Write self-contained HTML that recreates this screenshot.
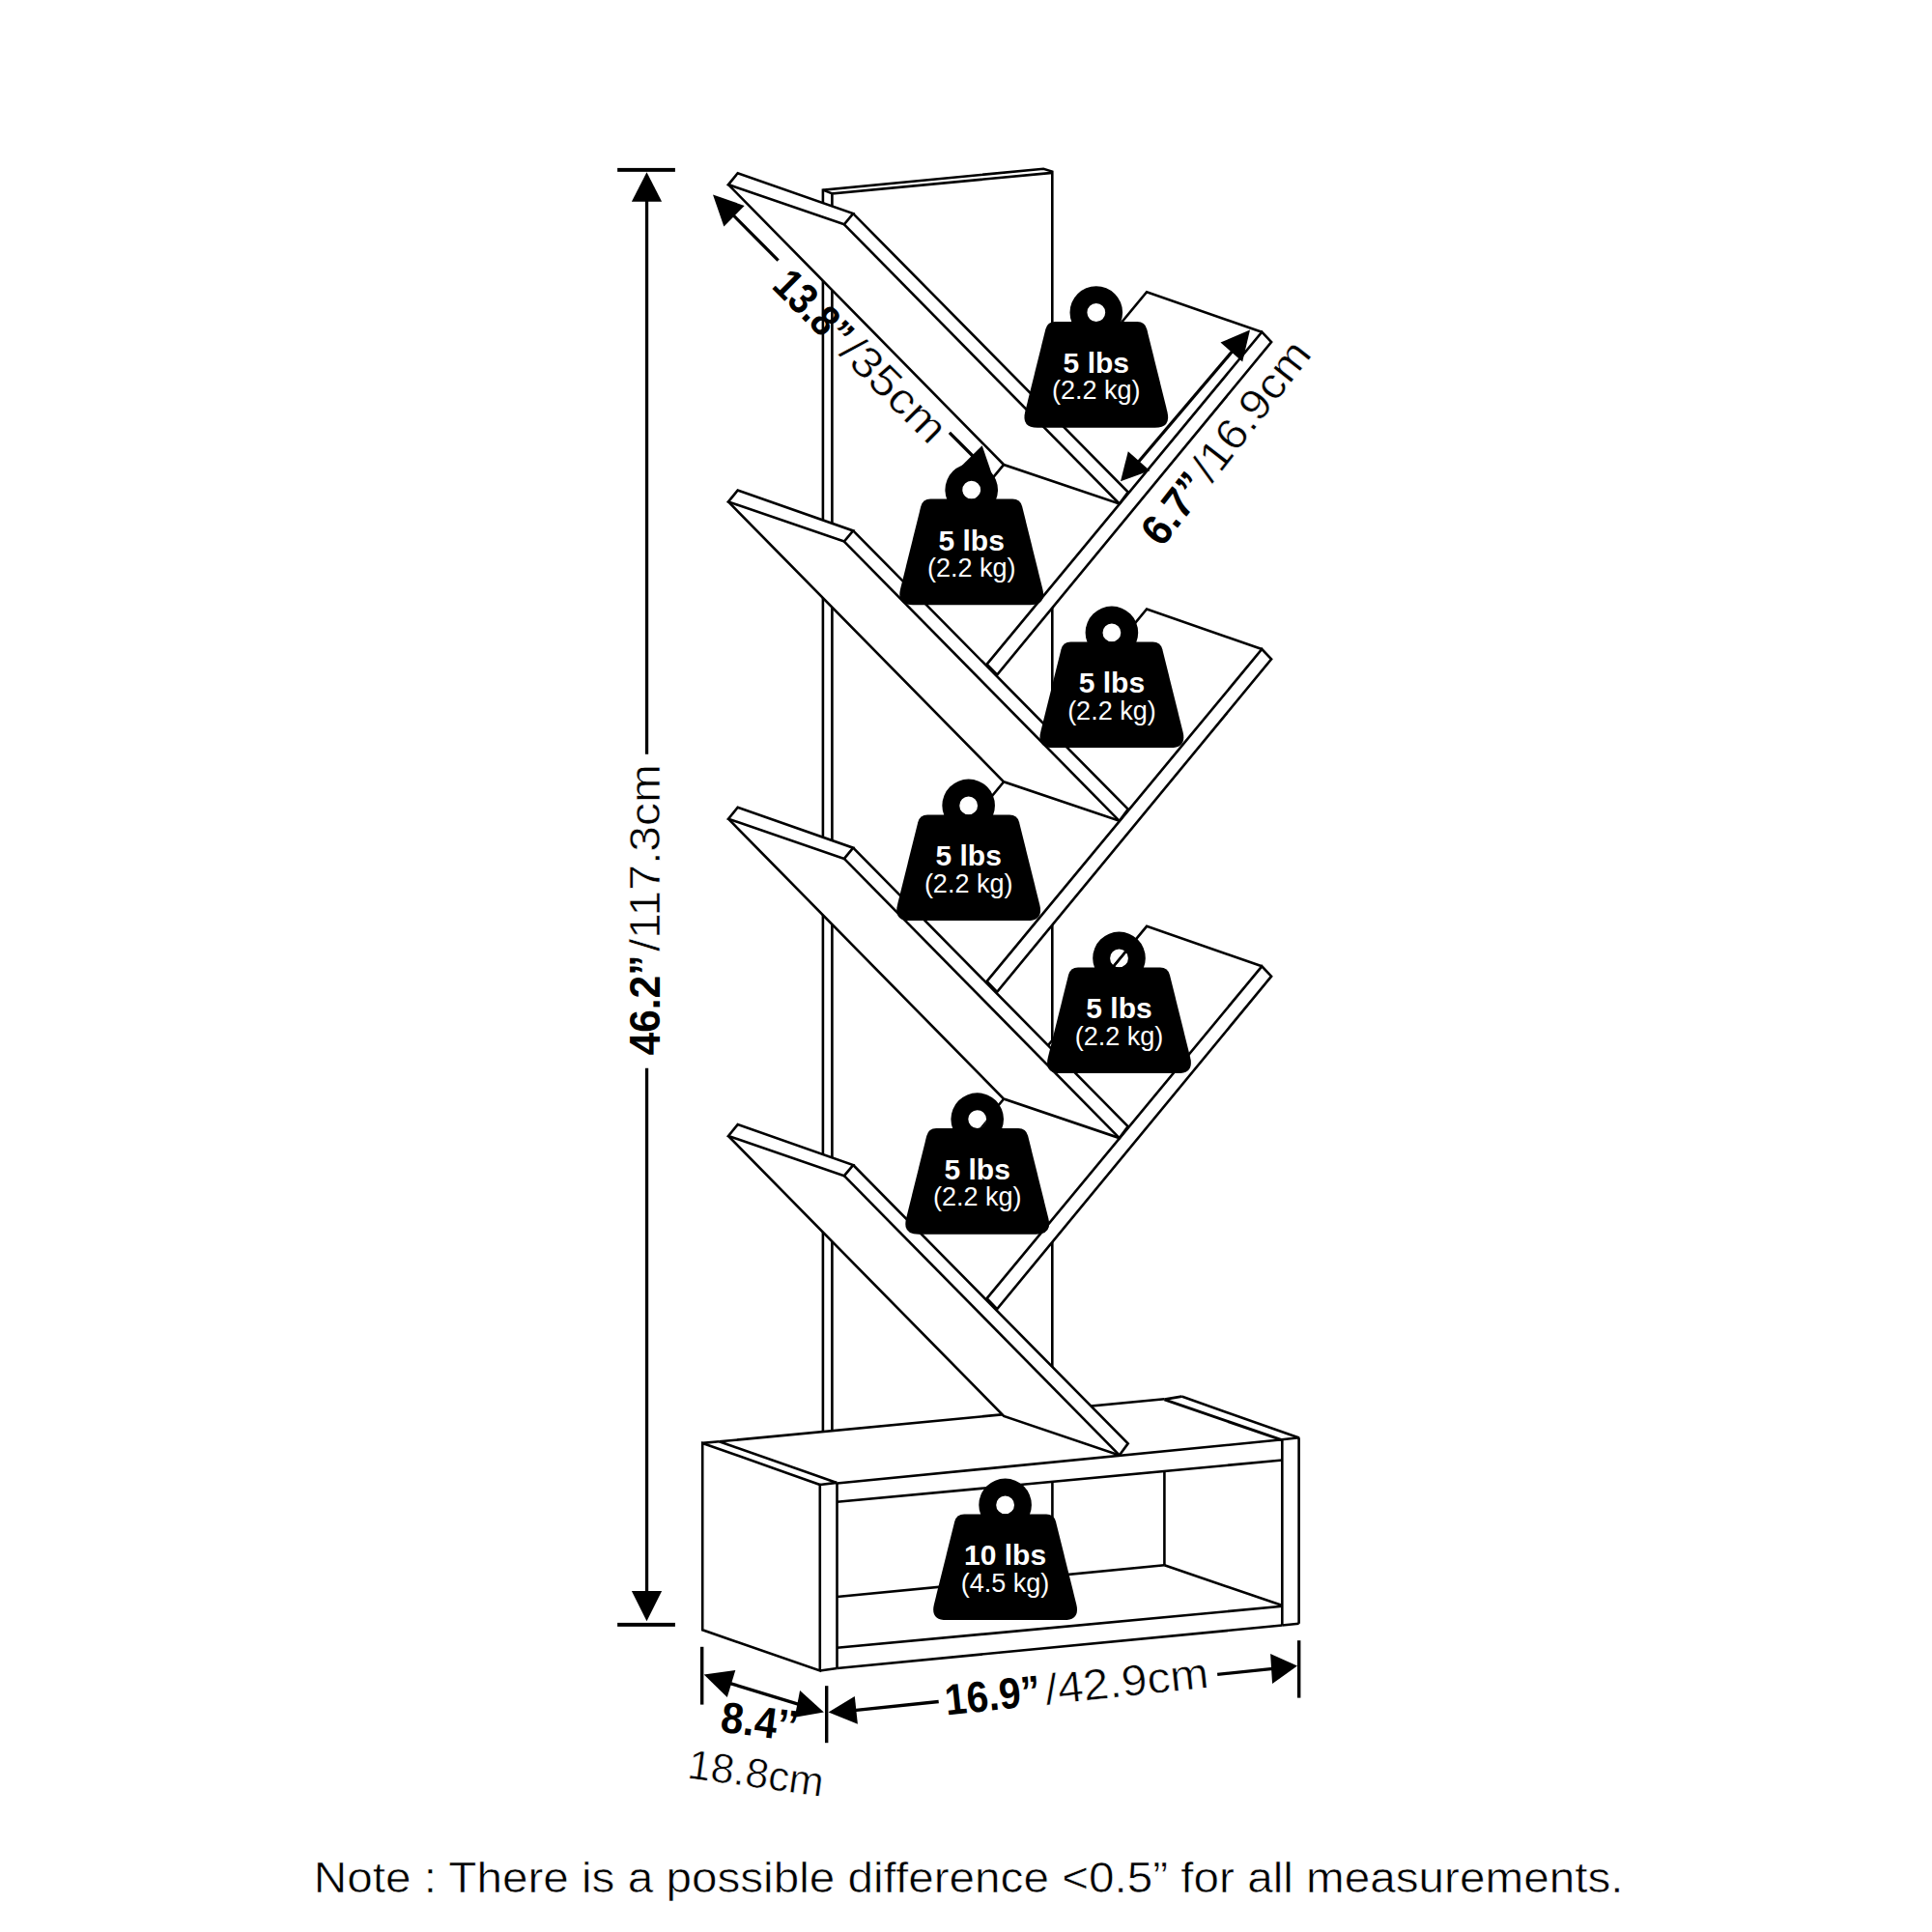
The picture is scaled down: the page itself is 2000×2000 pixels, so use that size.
<!DOCTYPE html>
<html><head><meta charset="utf-8"><title>Tree bookshelf dimensions</title>
<style>
html,body{margin:0;padding:0;background:#fff;width:2000px;height:2000px;overflow:hidden}
svg{display:block}
text.wb,text.wr,text.db{stroke:none}
.wb{font-family:"Liberation Sans",sans-serif;font-weight:700;font-size:30px;fill:#fff;text-anchor:middle}
.wr{font-family:"Liberation Sans",sans-serif;font-weight:400;font-size:27px;fill:#fff;text-anchor:middle}
.db{font-family:"Liberation Sans",sans-serif;font-weight:700;fill:#000}
.dr{font-family:"Liberation Sans",sans-serif;font-weight:400;fill:#000;stroke:#fff;stroke-width:0.6px}
</style></head><body>
<svg width="2000" height="2000" viewBox="0 0 2000 2000">
<rect x="0" y="0" width="2000" height="2000" fill="#fff"/>
<g stroke="#000" stroke-linejoin="miter" stroke-linecap="butt" fill="none">
<polygon points="851.9,1483 851.9,196.65 1080.2,174.75 1089.3,177.6 1089.3,1461" fill="#fff" stroke-width="0"/>
<polyline points="851.9,1483 851.9,196.65 1080.2,174.75 1089.3,177.6 1089.3,1461" fill="none" stroke-width="2.6"/>
<polyline points="861.4,1483 861.4,200.4 1089.3,178.9" fill="none" stroke-width="2.6"/>
<line x1="851.9" y1="196.65" x2="861.4" y2="200.4" stroke-width="2.6"/>
<polygon points="727.2,1493.9 744.5,1492.3 1205.5,1448.3 1223.2,1445.6 1345,1488.5 1345,1681 866.5,1727 849.1,1729.5 727.2,1687.5" fill="#fff" stroke-width="0"/>
<polygon points="727.2,1493.9 848.8,1537 848.8,1729.5 727.2,1687.3" fill="none" stroke-width="2.6"/>
<line x1="744.5" y1="1492.3" x2="866.3" y2="1534.9" stroke-width="2.6"/>
<line x1="727.2" y1="1493.9" x2="744.5" y2="1492.3" stroke-width="2.6"/>
<line x1="848.8" y1="1537" x2="866.3" y2="1534.9" stroke-width="2.6"/>
<line x1="866.5" y1="1534.9" x2="866.5" y2="1727" stroke-width="2.6"/>
<line x1="848.8" y1="1729.5" x2="866.5" y2="1727" stroke-width="2.6"/>
<line x1="744.5" y1="1492.3" x2="1205.5" y2="1448.3" stroke-width="2.6"/>
<line x1="866.5" y1="1535.5" x2="1327.5" y2="1490.3" stroke-width="2.6"/>
<line x1="866.5" y1="1554.8" x2="1327.5" y2="1511.5" stroke-width="2.6"/>
<line x1="1205.5" y1="1448.6" x2="1223.2" y2="1445.6" stroke-width="2.6"/>
<line x1="1223.2" y1="1445.6" x2="1345" y2="1488.5" stroke-width="2.6"/>
<line x1="1205.5" y1="1448.9" x2="1326.8" y2="1490.6" stroke-width="3"/>
<line x1="1326.8" y1="1490.3" x2="1345" y2="1488.3" stroke-width="2.6"/>
<line x1="1327.3" y1="1490.3" x2="1327.3" y2="1682.5" stroke-width="2.6"/>
<line x1="1344.6" y1="1488.3" x2="1344.6" y2="1680.8" stroke-width="2.6"/>
<line x1="1327.3" y1="1682.5" x2="1344.6" y2="1680.8" stroke-width="2.6"/>
<line x1="1205.4" y1="1523.5" x2="1205.4" y2="1620.5" stroke-width="2.6"/>
<line x1="1089.4" y1="1534.4" x2="1089.4" y2="1633" stroke-width="2.6"/>
<line x1="866.5" y1="1653" x2="1205.4" y2="1620.3" stroke-width="2.6"/>
<line x1="1205.4" y1="1620.3" x2="1326.8" y2="1661.8" stroke-width="2.6"/>
<line x1="866.5" y1="1705.8" x2="1327.3" y2="1662.8" stroke-width="2.6"/>
<line x1="866.5" y1="1727" x2="1327.3" y2="1682.5" stroke-width="2.6"/>
<polygon points="1187.1,302.2 1306.3,343.7 1316.1,354.1 1032.2,698.5 1021.6,687.6 965.1,567.91 1025.1,497.91" fill="#fff" stroke-width="0"/>
<polygon points="1021.6,687.6 1306.3,343.7 1316.1,354.1 1032.2,698.5" fill="none" stroke-width="2.6"/>
<polyline points="1025.1,497.91 1187.1,302.2 1306.3,343.7" fill="none" stroke-width="2.6"/>
<polygon points="763.7,179.2 883.2,221.1 1167.7,509.4 1158.8,521.5 1039.1,481 754,191.1" fill="#fff" stroke-width="0"/>
<polygon points="754,191.1 763.7,179.2 883.2,221.1 873.9,232.3" fill="none" stroke-width="2.6"/>
<polyline points="754,191.1 1039.1,481 1158.8,521.5 1167.7,509.4 883.2,221.1" fill="none" stroke-width="2.6"/>
<line x1="873.9" y1="232.3" x2="1158.8" y2="521.5" stroke-width="2.6"/>
<polygon points="1187.1,630.5 1306.3,672 1316.1,682.4 1032.2,1026.8 1021.6,1015.9 965.1,896.21 1025.1,826.21" fill="#fff" stroke-width="0"/>
<polygon points="1021.6,1015.9 1306.3,672 1316.1,682.4 1032.2,1026.8" fill="none" stroke-width="2.6"/>
<polyline points="1025.1,826.21 1187.1,630.5 1306.3,672" fill="none" stroke-width="2.6"/>
<polygon points="763.7,507.5 883.2,549.4 1167.7,837.7 1158.8,849.8 1039.1,809.3 754,519.4" fill="#fff" stroke-width="0"/>
<polygon points="754,519.4 763.7,507.5 883.2,549.4 873.9,560.6" fill="none" stroke-width="2.6"/>
<polyline points="754,519.4 1039.1,809.3 1158.8,849.8 1167.7,837.7 883.2,549.4" fill="none" stroke-width="2.6"/>
<line x1="873.9" y1="560.6" x2="1158.8" y2="849.8" stroke-width="2.6"/>
<polygon points="1187.1,958.8 1306.3,1000.3 1316.1,1010.7 1032.2,1355.1 1021.6,1344.2 965.1,1224.51 1025.1,1154.51" fill="#fff" stroke-width="0"/>
<polygon points="1021.6,1344.2 1306.3,1000.3 1316.1,1010.7 1032.2,1355.1" fill="none" stroke-width="2.6"/>
<polyline points="1025.1,1154.51 1187.1,958.8 1306.3,1000.3" fill="none" stroke-width="2.6"/>
<polygon points="763.7,835.8 883.2,877.7 1167.7,1166 1158.8,1178.1 1039.1,1137.6 754,847.7" fill="#fff" stroke-width="0"/>
<polygon points="754,847.7 763.7,835.8 883.2,877.7 873.9,888.9" fill="none" stroke-width="2.6"/>
<polyline points="754,847.7 1039.1,1137.6 1158.8,1178.1 1167.7,1166 883.2,877.7" fill="none" stroke-width="2.6"/>
<line x1="873.9" y1="888.9" x2="1158.8" y2="1178.1" stroke-width="2.6"/>
<polygon points="763.7,1164.1 883.2,1206 1167.7,1494.3 1158.8,1506.4 1039.1,1465.9 754,1176" fill="#fff" stroke-width="0"/>
<polygon points="754,1176 763.7,1164.1 883.2,1206 873.9,1217.2" fill="none" stroke-width="2.6"/>
<polyline points="754,1176 1039.1,1465.9 1158.8,1506.4 1167.7,1494.3 883.2,1206" fill="none" stroke-width="2.6"/>
<line x1="873.9" y1="1217.2" x2="1158.8" y2="1506.4" stroke-width="2.6"/>
<path d="M1082.37 340.76 Q1084.3 333 1092.3 333 L1177.3 333 Q1185.3 333 1187.23 340.76 L1208.41 426.2 Q1212.5 442.7 1195.5 442.7 L1074.1 442.7 Q1057.1 442.7 1061.19 426.2 Z " fill="#000" stroke="none"/>
<path d="M1107.5 323.5 a27.3 27.3 0 1 0 54.6 0 a27.3 27.3 0 1 0 -54.6 0 Z M1125.4 323.5 a9.4 9.4 0 1 1 18.8 0 a9.4 9.4 0 1 1 -18.8 0 Z" fill="#000" stroke="none" fill-rule="evenodd"/>
<text x="1134.8" y="386" class="wb">5 lbs</text>
<text x="1134.8" y="413.3" class="wr">(2.2 kg)</text>
<path d="M953.27 524.36 Q955.2 516.6 963.2 516.6 L1048.2 516.6 Q1056.2 516.6 1058.13 524.36 L1079.31 609.8 Q1083.4 626.3 1066.4 626.3 L945 626.3 Q928 626.3 932.09 609.8 Z " fill="#000" stroke="none"/>
<path d="M978.4 507.1 a27.3 27.3 0 1 0 54.6 0 a27.3 27.3 0 1 0 -54.6 0 Z M996.3 507.1 a9.4 9.4 0 1 1 18.8 0 a9.4 9.4 0 1 1 -18.8 0 Z" fill="#000" stroke="none" fill-rule="evenodd"/>
<text x="1005.7" y="569.6" class="wb">5 lbs</text>
<text x="1005.7" y="596.9" class="wr">(2.2 kg)</text>
<path d="M1098.47 672.16 Q1100.4 664.4 1108.4 664.4 L1193.4 664.4 Q1201.4 664.4 1203.33 672.16 L1224.51 757.6 Q1228.6 774.1 1211.6 774.1 L1090.2 774.1 Q1073.2 774.1 1077.29 757.6 Z " fill="#000" stroke="none"/>
<path d="M1123.6 654.9 a27.3 27.3 0 1 0 54.6 0 a27.3 27.3 0 1 0 -54.6 0 Z M1141.5 654.9 a9.4 9.4 0 1 1 18.8 0 a9.4 9.4 0 1 1 -18.8 0 Z" fill="#000" stroke="none" fill-rule="evenodd"/>
<text x="1150.9" y="717.4" class="wb">5 lbs</text>
<text x="1150.9" y="744.7" class="wr">(2.2 kg)</text>
<path d="M950.22 851.16 Q952.15 843.4 960.15 843.4 L1045.15 843.4 Q1053.15 843.4 1055.08 851.16 L1076.26 936.6 Q1080.35 953.1 1063.35 953.1 L941.95 953.1 Q924.95 953.1 929.04 936.6 Z " fill="#000" stroke="none"/>
<path d="M975.35 833.9 a27.3 27.3 0 1 0 54.6 0 a27.3 27.3 0 1 0 -54.6 0 Z M993.25 833.9 a9.4 9.4 0 1 1 18.8 0 a9.4 9.4 0 1 1 -18.8 0 Z" fill="#000" stroke="none" fill-rule="evenodd"/>
<text x="1002.65" y="896.4" class="wb">5 lbs</text>
<text x="1002.65" y="923.7" class="wr">(2.2 kg)</text>
<path d="M1106.07 1009.16 Q1108 1001.4 1116 1001.4 L1201 1001.4 Q1209 1001.4 1210.93 1009.16 L1232.11 1094.6 Q1236.2 1111.1 1219.2 1111.1 L1097.8 1111.1 Q1080.8 1111.1 1084.89 1094.6 Z " fill="#000" stroke="none"/>
<path d="M1131.2 991.9 a27.3 27.3 0 1 0 54.6 0 a27.3 27.3 0 1 0 -54.6 0 Z M1149.1 991.9 a9.4 9.4 0 1 1 18.8 0 a9.4 9.4 0 1 1 -18.8 0 Z" fill="#000" stroke="none" fill-rule="evenodd"/>
<text x="1158.5" y="1054.4" class="wb">5 lbs</text>
<text x="1158.5" y="1081.7" class="wr">(2.2 kg)</text>
<path d="M959.27 1175.86 Q961.2 1168.1 969.2 1168.1 L1054.2 1168.1 Q1062.2 1168.1 1064.13 1175.86 L1085.31 1261.3 Q1089.4 1277.8 1072.4 1277.8 L951 1277.8 Q934 1277.8 938.09 1261.3 Z " fill="#000" stroke="none"/>
<path d="M984.4 1158.6 a27.3 27.3 0 1 0 54.6 0 a27.3 27.3 0 1 0 -54.6 0 Z M1002.3 1158.6 a9.4 9.4 0 1 1 18.8 0 a9.4 9.4 0 1 1 -18.8 0 Z" fill="#000" stroke="none" fill-rule="evenodd"/>
<text x="1011.7" y="1221.1" class="wb">5 lbs</text>
<text x="1011.7" y="1248.4" class="wr">(2.2 kg)</text>
<path d="M988.17 1575.16 Q990.1 1567.4 998.1 1567.4 L1083.1 1567.4 Q1091.1 1567.4 1093.03 1575.16 L1114.21 1660.6 Q1118.3 1677.1 1101.3 1677.1 L979.9 1677.1 Q962.9 1677.1 966.99 1660.6 Z " fill="#000" stroke="none"/>
<path d="M1013.3 1557.9 a27.3 27.3 0 1 0 54.6 0 a27.3 27.3 0 1 0 -54.6 0 Z M1031.2 1557.9 a9.4 9.4 0 1 1 18.8 0 a9.4 9.4 0 1 1 -18.8 0 Z" fill="#000" stroke="none" fill-rule="evenodd"/>
<text x="1040.6" y="1620.4" class="wb">10 lbs</text>
<text x="1040.6" y="1647.7" class="wr">(4.5 kg)</text>
<clipPath id="hc2"><circle cx="1005.7" cy="507.1" r="9.6"/></clipPath>
<polygon clip-path="url(#hc2)" points="1102.86,403.97 975.34,558.03 1052.37,621.8 1179.9,467.73" fill="#000" stroke="none"/>
<clipPath id="hc5"><circle cx="1158.5" cy="991.9" r="9.6"/></clipPath>
<line clip-path="url(#hc5)" x1="1187.1" y1="958.8" x2="1039.1" y2="1137.6" stroke-width="2.3"/>
<clipPath id="hc6"><circle cx="1011.7" cy="1158.6" r="9.6"/></clipPath>
<polygon clip-path="url(#hc6)" points="1102.86,1060.57 975.34,1214.63 1052.37,1278.4 1179.9,1124.33" fill="#000" stroke="none"/>
<rect x="639.15" y="173.9" width="59.75" height="3.95" fill="#000" stroke="none"/>
<rect x="639.15" y="1679.9" width="59.75" height="3.95" fill="#000" stroke="none"/>
<polygon points="669.5,178.2 653.9,208.75 685.1,208.75" fill="#000" stroke="none"/>
<polygon points="669.5,1678.2 653.9,1646.9 685.1,1646.9" fill="#000" stroke="none"/>
<line x1="669.55" y1="205" x2="669.55" y2="780.7" stroke-width="3.3"/>
<line x1="669.55" y1="1105.8" x2="669.55" y2="1650" stroke-width="3.3"/>
<g transform="translate(682.5 1092.5) rotate(-90)">
<text x="0" y="0" class="db" style="font-size:45px" textLength="104" lengthAdjust="spacingAndGlyphs">46.2&#8221;</text>
<text x="107.5" y="0" class="dr" style="font-size:45px" textLength="194" lengthAdjust="spacingAndGlyphs">/117.3cm</text>
</g>
<polygon points="738,201.55 749.4,234.6 770.65,212.9" fill="#000" stroke="none"/>
<line x1="758" y1="221.7" x2="805.6" y2="269.6" stroke-width="3.3"/>
<line x1="982.9" y1="447.8" x2="1008" y2="473" stroke-width="3.3"/>
<polygon points="1016.7,461.2 994.9,482.8 1027.9,494.1" fill="#000" stroke="none"/>
<g transform="translate(797.7 297.2) rotate(45)">
<text x="0" y="0" class="db" style="font-size:45px" textLength="95" lengthAdjust="spacingAndGlyphs">13.8&#8221;</text>
<text x="98.3" y="0" class="dr" style="font-size:45px" textLength="134.4" lengthAdjust="spacingAndGlyphs">/35cm</text>
</g>
<polygon points="1294,341.6 1263.5,354.6 1286.2,374.6" fill="#000" stroke="none"/>
<polygon points="1160,498.2 1167.8,467.2 1190.4,487.2" fill="#000" stroke="none"/>
<line x1="1176.5" y1="480.5" x2="1277.5" y2="361.5" stroke-width="3.3"/>
<g transform="translate(1202.8 567.4) rotate(-52)">
<text x="0" y="0" class="db" style="font-size:45px" textLength="80" lengthAdjust="spacingAndGlyphs">6.7&#8221;</text>
<text x="84" y="0" class="dr" style="font-size:45px" textLength="170" lengthAdjust="spacingAndGlyphs">/16.9cm</text>
</g>
<line x1="726.7" y1="1704.8" x2="726.7" y2="1764.6" stroke-width="3.4"/>
<line x1="855.7" y1="1745.2" x2="855.7" y2="1804.2" stroke-width="3.4"/>
<line x1="1344.7" y1="1698.2" x2="1344.7" y2="1757.6" stroke-width="3.4"/>
<polygon points="728.7,1733.6 761.3,1728.9 752.8,1756.9" fill="#000" stroke="none"/>
<polygon points="852.9,1772.4 828.1,1749.9 822.7,1777.8" fill="#000" stroke="none"/>
<line x1="755" y1="1742.3" x2="827" y2="1764.3" stroke-width="3.3"/>
<g transform="translate(744.8 1792.5) rotate(7.2)">
<text x="0" y="0" class="db" style="font-size:45px" textLength="80" lengthAdjust="spacingAndGlyphs">8.4&#8217;&#8217;</text>
</g>
<g transform="translate(710.5 1840.4) rotate(8)">
<text x="0" y="0" class="dr" style="font-size:43px" textLength="141.5" lengthAdjust="spacingAndGlyphs">18.8cm</text>
</g>
<polygon points="857.6,1772.4 884.8,1756.1 887.9,1784.8" fill="#000" stroke="none"/>
<polygon points="1343,1724.5 1315.1,1712.1 1317.1,1743.1" fill="#000" stroke="none"/>
<line x1="884" y1="1770.7" x2="971.7" y2="1761.5" stroke-width="3.3"/>
<line x1="1260.2" y1="1733.4" x2="1318" y2="1727.4" stroke-width="3.3"/>
<g transform="translate(979.8 1775.5) rotate(-6)">
<text x="0" y="0" class="db" style="font-size:45px" textLength="99" lengthAdjust="spacingAndGlyphs">16.9&#8221;</text>
<text x="104" y="0" class="dr" style="font-size:45px" textLength="170" lengthAdjust="spacingAndGlyphs">/42.9cm</text>
</g>
<text x="324.8" y="1958.6" class="dr" style="font-size:44px" textLength="1355.7" lengthAdjust="spacingAndGlyphs">Note : There is a possible difference &lt;0.5&#8221; for all measurements.</text>
</g>
</svg>
</body></html>
